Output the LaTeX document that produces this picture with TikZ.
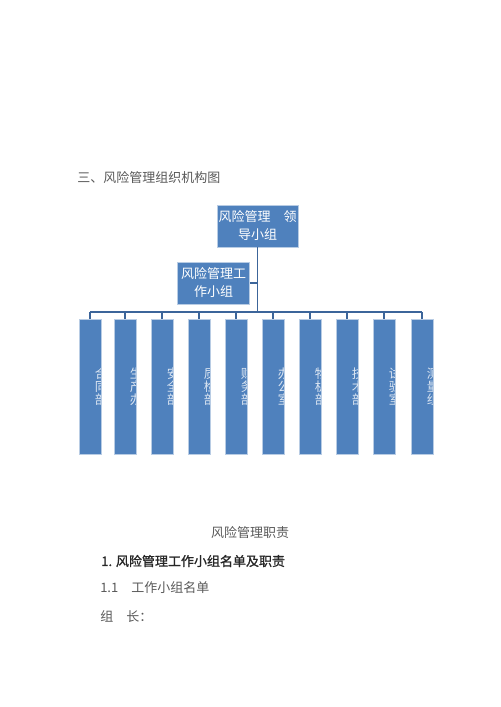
\documentclass[tikz,border=0pt]{standalone}
\usepackage{fontspec}
\setmainfont{Noto Sans CJK SC}
\newfontfamily\headfont[FakeBold=1.2]{Noto Sans CJK SC}
\usetikzlibrary{positioning}

\definecolor{boxblue}{HTML}{4F81BD}
\definecolor{boxedge}{HTML}{B8CCE4}
\definecolor{linkblue}{HTML}{3C659A}
\definecolor{textgray}{HTML}{595959}
\definecolor{depttext}{HTML}{DCE6F2}

\newcommand{\cnfont}{\fontsize{9.75pt}{13.5pt}\selectfont}
\newcommand{\deptfont}{\fontsize{9.5pt}{9.75pt}\selectfont}

\tikzset{
  orgbox/.style={draw=boxedge, line width=0.6pt, fill=boxblue, text=white,
    align=center, inner sep=0pt, font=\cnfont},
  deptbox/.style={orgbox, minimum width=16.5pt, minimum height=101.25pt,
    path picture={\node[draw=none, fill=none, minimum width=0pt, minimum height=0pt,
      text=depttext, align=center, anchor=center, inner sep=0pt, font=\deptfont]
      at ([xshift=8.4pt]path picture bounding box.center) {#1};}},
  link/.style={draw=linkblue, line width=1pt},
  plain/.style={text=textgray, anchor=west, inner sep=0pt, font=\cnfont},
}

\begin{document}
\begin{tikzpicture}[x=0.75pt, y=-0.75pt]
\useasboundingbox (0,0) rectangle (500,707);

% title
\node[plain] (title) at (77,178) {三、风险管理组织机构图};

% leading group
\node[orgbox, minimum width=60.75pt, minimum height=31.5pt] (lead) at (257.5,226)
{风险管理　领\\导小组};

% working group
\node[orgbox, minimum width=54pt, minimum height=31.5pt] (work) at (213.5,283)
{风险管理工\\作小组};

% departments
\foreach \x/\name [count=\i] in {90/合\\同\\部, 125/生\\产\\办, 162/安\\全\\部,
    199/质\\检\\部, 236/财\\务\\部, 273/办\\公\\室, 310/物\\机\\部,
    347/技\\术\\部, 384/试\\验\\室, 422/测\\量\\组}
  \node[deptbox=\name] (dept\i) at (\x,387) {};

% connectors
\coordinate (bus) at (0,312);
\draw[link] (lead.south) -- (lead.south |- bus);
\draw[link] (work.east) -- (work.east -| lead.south);
\draw[link] (dept1.north |- bus) -- (dept10.north |- bus);
\foreach \i in {1,...,10}
  \draw[link] (dept\i.north |- bus) -- (dept\i.north);

% text below
\node[text=textgray, font=\cnfont] (duty) at (250,533) {风险管理职责};
\node[plain, text=black!85, font=\cnfont\headfont] (sec1) at (101,561)
{1. 风险管理工作小组名单及职责};
\node[plain] (sec11) at (100,588) {1.1　工作小组名单};
\node[plain] (leader) at (100,617) {组　长：};

\end{tikzpicture}
\end{document}
